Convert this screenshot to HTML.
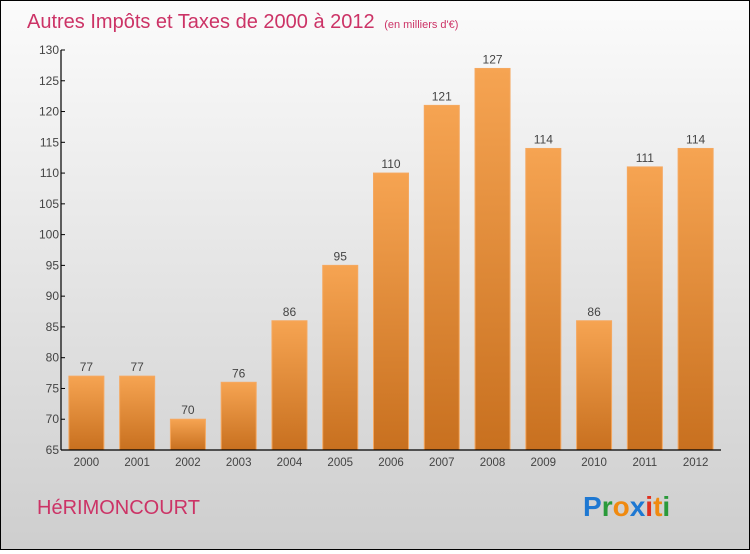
<!DOCTYPE html>
<html><head><meta charset="utf-8"><style>
body{margin:0;width:750px;height:550px;overflow:hidden;font-family:"Liberation Sans",sans-serif}
#wrap{position:relative;width:748px;height:548px;border:1px solid #000;background:linear-gradient(#fbfbfb,#cecece)}
</style></head><body>
<div id="wrap">
<svg id="chart" width="748" height="548">
<defs>
<linearGradient id="bg" x1="0" y1="0" x2="0" y2="1"><stop offset="0" stop-color="#f6a452"/><stop offset="1" stop-color="#c8701f"/></linearGradient>
</defs>
<text x="26" y="27" font-size="20" fill="#cc3366">Autres Impôts et Taxes de 2000 à 2012 <tspan font-size="11" dx="4">(en milliers d'€)</tspan></text>
<text x="36" y="513" font-size="20" fill="#cc3366">HéRIMONCOURT</text>
<g font-size="28" font-weight="bold">
<text x="582" y="515"><tspan fill="#1e78d2">P</tspan><tspan fill="#2a9a3a">r</tspan><tspan fill="#f08a10">o</tspan><tspan fill="#1e78d2">x</tspan><tspan fill="#e03020">i</tspan><tspan fill="#f08a10">t</tspan><tspan fill="#2a9a3a">i</tspan></text>
</g>
<g id="plot"></g>
</svg>
</div>
<script>
const categories=["2000","2001","2002","2003","2004","2005","2006","2007","2008","2009","2010","2011","2012"];
const values=[77,77,70,76,86,95,110,121,127,114,86,111,114];
const yTicks=[65,70,75,80,85,90,95,100,105,110,115,120,125,130];
const X0=60,X1=720,Y0=449,Y1=49,VMIN=65,VMAX=130;
const band=(X1-X0)/categories.length;
const y=v=>Y0-(v-VMIN)/(VMAX-VMIN)*(Y0-Y1);
const xc=i=>X0+band*(i+0.5);
const NS="http://www.w3.org/2000/svg",g=document.getElementById('plot');
function mk(t,a,txt){const e=document.createElementNS(NS,t);for(const k in a)e.setAttribute(k,a[k]);if(txt!=null)e.textContent=txt;g.appendChild(e);return e;}
values.forEach((v,i)=>{
 const r=mk('rect',{x:xc(i)-17.5,y:y(v),width:35,height:Y0-y(v),fill:'url(#bg)',stroke:'#f5a860','stroke-width':1});
 
 
 const t=mk('text',{x:xc(i),y:y(v)-5,'font-size':12,'text-anchor':'middle',fill:'#444'},String(v));
 
 
 const c=mk('text',{x:xc(i),y:Y0+16,'font-size':11.5,'text-anchor':'middle',fill:'#444'},categories[i]);
 
 
});
yTicks.forEach(v=>{
 const l=mk('line',{x1:X0,x2:X0+4,y1:y(v),y2:y(v),stroke:'#000'});
 
 
 const t=mk('text',{x:X0-2,y:y(v)+4,'font-size':12,'text-anchor':'end',fill:'#444'},String(v));
 
 
});
const ya=mk('line',{x1:X0,x2:X0,y1:Y1,y2:Y0,stroke:'#000','stroke-width':1.2});


const xa=mk('line',{x1:X0,x2:X1,y1:Y0,y2:Y0,stroke:'#000','stroke-width':1.2});


</script>
</body></html>
